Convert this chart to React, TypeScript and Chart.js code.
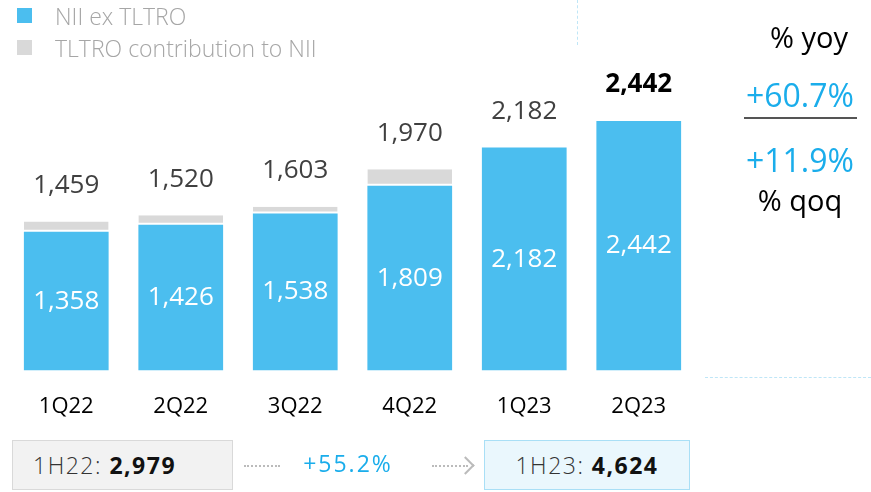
import React, { useEffect, useRef } from "react";
import { Chart, registerables } from "chart.js";

Chart.register(...registerables);

const categories = ["1Q22", "2Q22", "3Q22", "4Q22", "1Q23", "2Q23"];
const niiExTltro = [1358, 1426, 1538, 1809, 2182, 2442];
const tltroContribution = [101, 94, 65, 161, 0, 0];
const totals = [1459, 1520, 1603, 1970, 2182, 2442];

const BLUE = "#4BBEEF";
const GRAY = "#D9D9D9";
const ACCENT = "#1AADEB";
const FONT = "'Open Sans', 'Noto Sans', sans-serif";

const fmt = (v: number) => v.toLocaleString("en-US");

const labelPlugin = {
  id: "valueLabels",
  afterDatasetsDraw(chart: any) {
    const ctx = chart.ctx;
    const meta = chart.getDatasetMeta(0);
    const y = chart.scales.y;
    ctx.save();
    ctx.textAlign = "center";
    ctx.textBaseline = "middle";
    meta.data.forEach((bar: any, i: number) => {
      const mid = (bar.y + bar.base) / 2;
      ctx.fillStyle = "#FFFFFF";
      ctx.font = `26px ${FONT}`;
      ctx.fillText(fmt(niiExTltro[i]), bar.x, mid);
      const last = i === totals.length - 1;
      ctx.fillStyle = last ? "#000000" : "#404040";
      ctx.font = `${last ? "bold " : ""}26px ${FONT}`;
      ctx.fillText(fmt(totals[i]), bar.x, y.getPixelForValue(totals[i]) - 36);
    });
    ctx.restore();
  },
};

export default function App() {
  const ref = useRef<HTMLCanvasElement | null>(null);

  useEffect(() => {
    if (!ref.current) return;
    const chart = new Chart(ref.current, {
      type: "bar",
      data: {
        labels: categories,
        datasets: [
          {
            label: "NII ex TLTRO",
            data: niiExTltro,
            backgroundColor: BLUE,
            borderWidth: 0,
            barPercentage: 0.74,
            categoryPercentage: 1,
          },
          {
            label: "TLTRO contribution to NII",
            data: tltroContribution,
            backgroundColor: GRAY,
            borderColor: "#FFFFFF",
            borderWidth: { top: 0, left: 0, right: 0, bottom: 2 },
            borderSkipped: false,
            barPercentage: 0.74,
            categoryPercentage: 1,
          },
        ],
      },
      options: {
        responsive: false,
        animation: false,
        layout: { padding: { left: 9, right: 175, top: 64, bottom: 57 } },
        plugins: { legend: { display: false }, tooltip: { enabled: false } },
        scales: {
          x: {
            stacked: true,
            grid: { display: false },
            border: { display: false },
            ticks: { color: "#000000", font: { size: 22, family: FONT }, padding: 15 },
          },
          y: { stacked: true, display: false, min: 0, max: 3000 },
        },
      },
      plugins: [labelPlugin],
    });
    return () => chart.destroy();
  }, []);

  const abs = (s: React.CSSProperties): React.CSSProperties => ({ position: "absolute", ...s });

  return (
    <div style={{ position: "fixed", left: 0, top: 0, width: 871, height: 492, background: "#fff", fontFamily: FONT, overflow: "hidden" }}>
      <canvas ref={ref} width={871} height={492} style={{ position: "absolute", left: 0, top: 0 }} />
      {/* legend */}
      <div style={abs({ left: 17, top: 8, width: 15, height: 15, background: BLUE })} />
      <div style={abs({ left: 55, top: 0, fontSize: 23, color: "#A6A6A6", fontWeight: 300, lineHeight: "32px" })}>NII ex TLTRO</div>
      <div style={abs({ left: 17, top: 40, width: 15, height: 15, background: GRAY })} />
      <div style={abs({ left: 55, top: 32, fontSize: 23, color: "#A6A6A6", fontWeight: 300, lineHeight: "32px" })}>TLTRO contribution to NII</div>
      {/* dotted guides */}
      <div style={abs({ left: 577, top: 0, height: 45, borderLeft: "1px dashed #BFE6F7" })} />
      <div style={abs({ left: 705, top: 377, width: 166, borderTop: "1px dashed #BFE6F7" })} />
      {/* right panel */}
      <div style={abs({ left: 749, width: 120, top: 18, textAlign: "center", fontSize: 29, color: "#000", lineHeight: "38px" })}>% yoy</div>
      <div style={abs({ left: 740, width: 120, top: 75, textAlign: "center", fontSize: 32, fontWeight: 500, color: ACCENT, lineHeight: "40px" })}>+60.7%</div>
      <div style={abs({ left: 744, top: 117, width: 113, height: 2, background: "#555" })} />
      <div style={abs({ left: 740, width: 120, top: 140, textAlign: "center", fontSize: 32, fontWeight: 500, color: ACCENT, lineHeight: "40px" })}>+11.9%</div>
      <div style={abs({ left: 740, width: 120, top: 181, textAlign: "center", fontSize: 29, color: "#000", lineHeight: "38px" })}>% qoq</div>
      {/* bottom summary */}
      <div style={abs({ left: 12, top: 440, width: 199, height: 48, background: "#F2F2F2", border: "1px solid #D9D9D9", display: "flex", alignItems: "center", paddingLeft: 20, boxSizing: "content-box", fontSize: 23, letterSpacing: 1.5, color: "#333" })}>
        <span style={{ fontWeight: 300 }}>1H22:&nbsp;</span>
        <b style={{ color: "#111" }}>2,979</b>
      </div>
      <div style={abs({ left: 244, top: 465, width: 36, borderTop: "2px dotted #BBBBBB" })} />
      <div style={abs({ left: 290, width: 116, top: 448, textAlign: "center", fontSize: 23, letterSpacing: 2, color: ACCENT, lineHeight: "30px" })}>+55.2%</div>
      <div style={abs({ left: 432, top: 465, width: 36, borderTop: "2px dotted #BBBBBB" })} />
      <div style={abs({ left: 459, top: 459, width: 11, height: 11, borderTop: "2px solid #BBBBBB", borderRight: "2px solid #BBBBBB", transform: "rotate(45deg)" })} />
      <div style={abs({ left: 484, top: 440, width: 204, height: 48, background: "#EAF7FD", border: "1px solid #A9DFF6", display: "flex", alignItems: "center", justifyContent: "center", fontSize: 23, letterSpacing: 1.5, color: "#333" })}>
        <span style={{ fontWeight: 300 }}>1H23:&nbsp;</span>
        <b style={{ color: "#111" }}>4,624</b>
      </div>
    </div>
  );
}
